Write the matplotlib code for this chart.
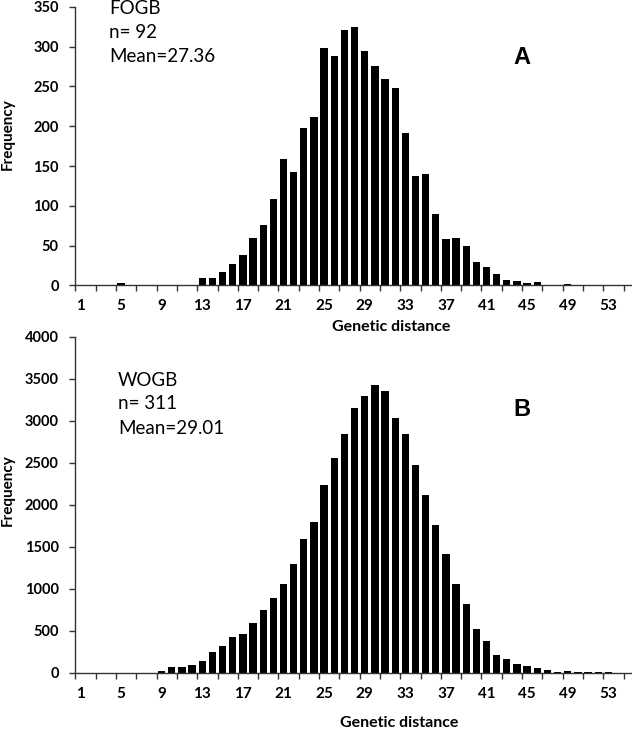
import numpy as np
import matplotlib
matplotlib.use("Agg")
from matplotlib import pyplot as plt

# genetic distance categories 1..55
distance = np.arange(1, 56)

# FOGB frequencies (panel A)
fogb = [0, 0, 0, 0, 3, 0, 1, 0, 0, 1,
        1, 1, 9, 9, 17, 27, 38, 60, 76, 108,
        159, 142, 198, 211, 298, 288, 321, 325, 295, 276,
        259, 248, 192, 137, 140, 90, 58, 60, 49, 30,
        23, 14, 7, 6, 3, 4, 0, 0, 1.5, 0,
        0, 0, 0, 0, 0]

# WOGB frequencies (panel B)
wogb = [0, 0, 0, 0, 0, 0, 0, 2, 15, 64,
        64, 91, 143, 250, 314, 421, 460, 587, 746, 893,
        1060, 1294, 1588, 1800, 2231, 2561, 2847, 3148, 3291, 3426,
        3355, 3029, 2847, 2477, 2112, 1759, 1413, 1060, 814, 520,
        375, 208, 169, 103, 79, 62, 38, 14, 26, 14,
        8, 3, 3, 2, 0]

label_ticks = list(range(1, 54, 4))
fogb_yticks = list(range(0, 351, 50))
wogb_yticks = list(range(0, 4001, 500))

tick_font = "Lato"
text_font = "Lato"

fig = plt.figure(figsize=(6.32, 7.29), dpi=100)
fig.patch.set_facecolor("white")

ax_a = fig.add_axes([0.1193, 0.6084, 0.8834, 0.3824])
ax_b = fig.add_axes([0.1193, 0.0772, 0.8834, 0.4609])


def style(ax, vals, yticks, ylab_y, xlab_x, xlab_y):
    ax.bar(distance, vals, width=0.72, color="black", zorder=2)
    ax.set_xlim(0.5, 55.5)
    ax.set_ylim(yticks[0], yticks[-1])
    ax.set_yticks(yticks)
    ax.set_yticklabels([str(v) for v in yticks], fontfamily=tick_font,
                       fontweight="bold", fontsize=10.5)
    # tick marks sit between categories, labels under the categories
    ax.set_xticks(np.arange(0.5, 55, 2))
    ax.set_xticklabels([])
    ax.set_xticks(label_ticks, minor=True)
    ax.set_xticklabels([str(v) for v in label_ticks], minor=True,
                       fontfamily=tick_font, fontweight="bold", fontsize=11)
    ax.tick_params(axis="x", which="major", direction="out", length=4,
                   width=1, color="#333333")
    ax.tick_params(axis="x", which="minor", length=0, pad=10)
    ax.tick_params(axis="y", direction="out", length=4, width=1,
                   color="#333333", pad=8)
    for s in ["top", "right"]:
        ax.spines[s].set_visible(False)
    for s in ["left", "bottom"]:
        ax.spines[s].set_color("#333333")
        ax.spines[s].set_linewidth(1)
    ax.set_ylabel("Frequency", fontfamily=text_font, fontweight="bold",
                  fontsize=11)
    ax.yaxis.set_label_coords(-0.121, ylab_y)
    ax.yaxis.label.set_verticalalignment("center")
    ax.set_xlabel("Genetic distance", fontfamily=text_font,
                  fontweight="bold", fontsize=11.5)
    ax.xaxis.set_label_coords(xlab_x, xlab_y)
    ax.xaxis.label.set_verticalalignment("center")


style(ax_a, fogb, fogb_yticks, 0.543, 0.565, -0.149)
style(ax_b, wogb, wogb_yticks, 0.544, 0.580, -0.150)

# annotations
for i, t in enumerate(["FOGB", "n= 92", "Mean=27.36"]):
    fig.text(109 / 632, 1 - (9 + 24 * i) / 729, t, fontfamily=text_font,
             fontsize=13.5, va="center", ha="left")
for i, t in enumerate(["WOGB", "n= 311", "Mean=29.01"]):
    fig.text(118 / 632, 1 - (380 + 24 * i) / 729, t, fontfamily=text_font,
             fontsize=13.5, va="center", ha="left")

fig.text(522 / 632, 1 - 58 / 729, "A", fontfamily="Liberation Sans",
         fontweight="bold", fontsize=17, ha="center", va="center")
fig.text(522 / 632, 1 - 410 / 729, "B", fontfamily="Liberation Sans",
         fontweight="bold", fontsize=17, ha="center", va="center")

fig.savefig("out.png", dpi=100, facecolor="white")
